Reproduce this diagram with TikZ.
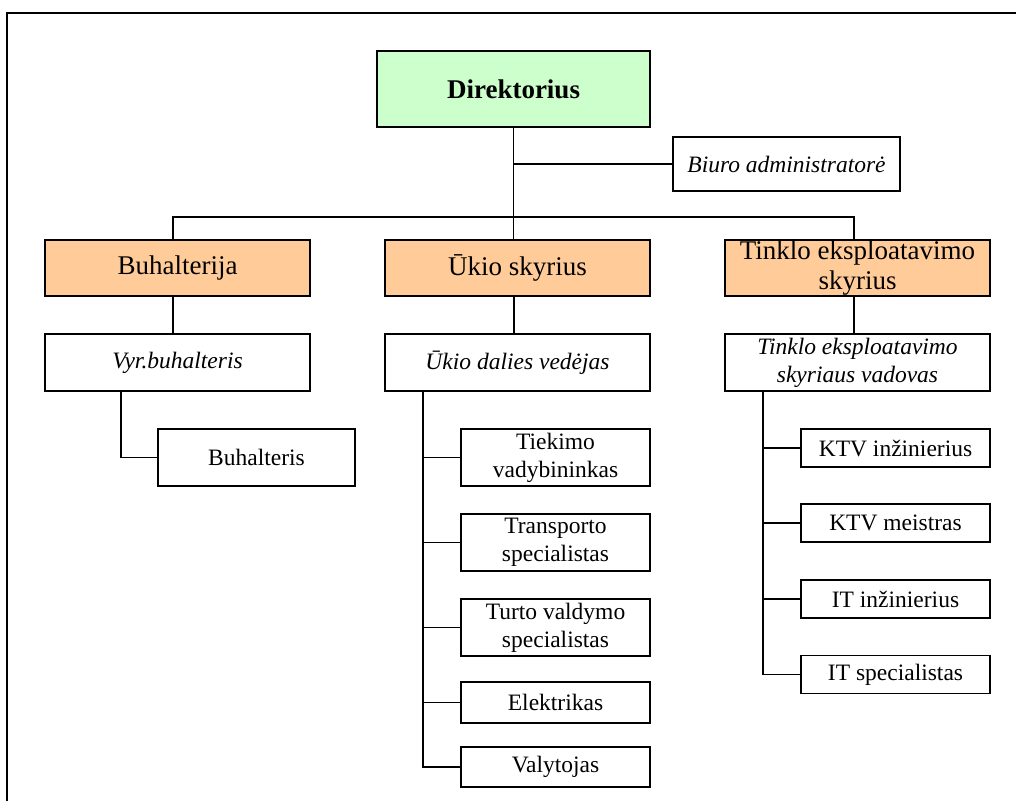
\documentclass[tikz,border=0pt]{standalone}
\usepackage{fontspec}
\setmainfont{Liberation Serif}
\definecolor{boardgreen}{HTML}{CCFFCC}
\definecolor{deptorange}{HTML}{FFCC99}
\begin{document}
\begin{tikzpicture}[x=1pt,y=-1pt,
  box/.style={draw=black,line width=1.4pt,rectangle,inner sep=0pt,align=center,
    font=\fontsize{23.5}{28}\selectfont},
  headbox/.style={box,fill=boardgreen,font=\fontsize{27}{30}\selectfont\bfseries},
  deptbox/.style={box,fill=deptorange,font=\fontsize{27}{30}\selectfont},
  chiefbox/.style={box,font=\fontsize{23.5}{28}\selectfont\itshape},
  link/.style={line width=1.2pt,draw=black}]
\useasboundingbox (0,0) rectangle (1016,801);
% frame
\draw[line width=1.5pt] (7,801) -- (7,13) -- (1016,13);

% top level
\node[headbox,minimum width=273,minimum height=76] (dir) at (513.5,89) {Direktorius};
\node[chiefbox,minimum width=227,minimum height=54] (biuro) at (786.5,164) {Biuro administratorė};

% departments
\node[deptbox,minimum width=265,minimum height=56] (buh) at (177.5,268) {Buhalterija};
\node[deptbox,minimum width=265,minimum height=56] (ukio) at (517.5,268) {Ūkio skyrius};
\node[deptbox,minimum width=265,minimum height=56] (tinklo) at (857.5,268) {Tinklo eksploatavimo\\skyrius};

% heads of departments
\node[chiefbox,minimum width=265,minimum height=57] (vyr) at (177.5,362.5) {Vyr.buhalteris};
\node[chiefbox,minimum width=265,minimum height=57] (ukvad) at (517.5,362.5) {Ūkio dalies vedėjas};
\node[chiefbox,minimum width=265,minimum height=57] (tinvad) at (857.5,362.5) {Tinklo eksploatavimo\\skyriaus vadovas};

% staff
\node[box,minimum width=197,minimum height=57] (buhst) at (256.5,457.5) {Buhalteris};

\node[box,minimum width=189,minimum height=57] (tiek) at (555.5,457.5) {Tiekimo\\vadybininkas};
\node[box,minimum width=189,minimum height=57] (trans) at (555.5,542.5) {Transporto\\specialistas};
\node[box,minimum width=189,minimum height=57] (turto) at (555.5,627.5) {Turto valdymo\\specialistas};
\node[box,minimum width=189,minimum height=41] (elek) at (555.5,702.5) {Elektrikas};
\node[box,minimum width=189,minimum height=40] (valyt) at (555.5,767) {Valytojas};

\node[box,minimum width=189,minimum height=38] (ktvi) at (895.5,448) {KTV inžinierius};
\node[box,minimum width=189,minimum height=38] (ktvm) at (895.5,523) {KTV meistras};
\node[box,minimum width=189,minimum height=38] (iti) at (895.5,599) {IT inžinierius};
\node[box,minimum width=189,minimum height=38] (its) at (895.5,674.5) {IT specialistas};

% top connectors
\coordinate (busL) at (173,217);
\coordinate (busR) at (854,217);
\draw[link] (dir.south) -- ([xshift=-4pt]ukio.north);
\draw[link] (dir.south |- biuro.west) -- (biuro.west);
\draw[link] ([xshift=-4.5pt]buh.north) |- (busL) -- (busR) -- ([xshift=-3.5pt]tinklo.north);

% department to head
\draw[link] ([xshift=-4.5pt]buh.south) -- ([xshift=-4.5pt]vyr.north);
\draw[link] ([xshift=-3.5pt]ukio.south) -- ([xshift=-3.5pt]ukvad.north);
\draw[link] ([xshift=-3.5pt]tinklo.south) -- ([xshift=-3.5pt]tinvad.north);

% head to staff
\draw[link] ([xshift=-56.5pt]vyr.south) |- (buhst.west);

\coordinate (uktrunk) at ([xshift=-94.5pt]ukvad.south);
\draw[link] (uktrunk) |- (valyt.west);
\foreach \n in {tiek,trans,turto,elek} \draw[link] (uktrunk |- \n.west) -- (\n.west);

\coordinate (tintrunk) at ([xshift=-94.5pt]tinvad.south);
\draw[link] (tintrunk) |- (its.west);
\foreach \n in {ktvi,ktvm,iti} \draw[link] (tintrunk |- \n.west) -- (\n.west);
\end{tikzpicture}
\end{document}
